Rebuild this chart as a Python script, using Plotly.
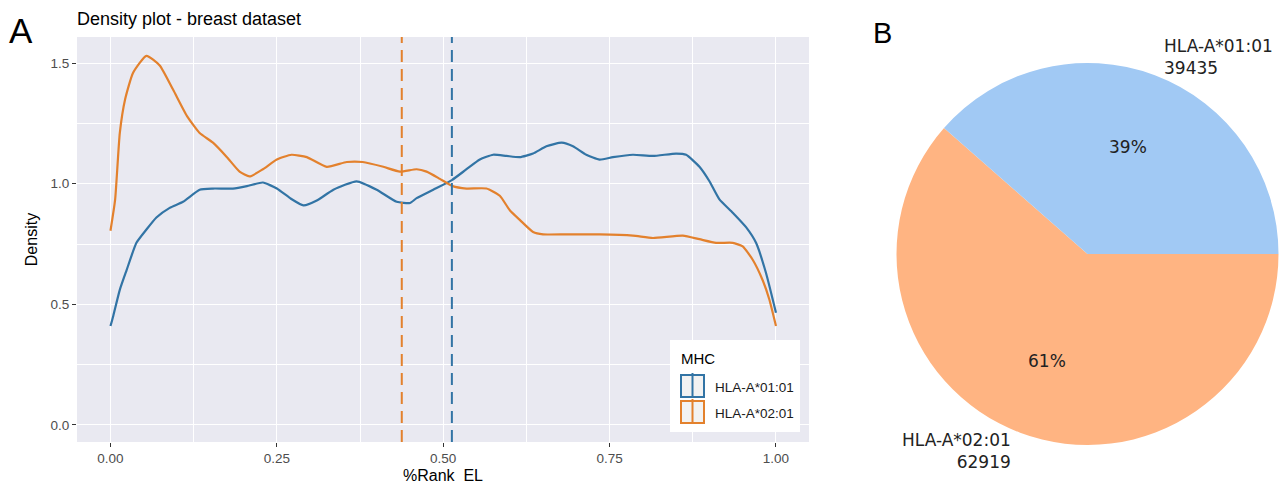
import numpy as np
import plotly.graph_objects as go

# ---------------- data ----------------
mhc_names = ["HLA-A*01:01", "HLA-A*02:01"]
line_colors = ["#3274a5", "#e3812d"]

# density of %Rank EL for HLA-A*01:01
rank_a01 = [0.0, 0.004, 0.014, 0.024, 0.039, 0.054, 0.069, 0.089, 0.109, 0.134, 0.154,
            0.184, 0.205, 0.229, 0.25, 0.27, 0.29, 0.31, 0.335, 0.37, 0.40, 0.43,
            0.45, 0.46, 0.485, 0.513, 0.535, 0.555, 0.575, 0.595, 0.615, 0.635, 0.655,
            0.678, 0.695, 0.715, 0.735, 0.755, 0.785, 0.815, 0.85, 0.865, 0.885, 0.90,
            0.915, 0.935, 0.955, 0.97, 0.985, 1.0]
dens_a01 = [0.41, 0.45, 0.56, 0.64, 0.755, 0.81, 0.86, 0.90, 0.925, 0.975, 0.98,
            0.98, 0.99, 1.005, 0.98, 0.94, 0.91, 0.93, 0.975, 1.01, 0.975, 0.925,
            0.92, 0.94, 0.975, 1.015, 1.06, 1.10, 1.12, 1.115, 1.11, 1.125, 1.155,
            1.17, 1.155, 1.12, 1.10, 1.11, 1.12, 1.115, 1.125, 1.12, 1.07, 1.01,
            0.935, 0.88, 0.82, 0.755, 0.63, 0.465]

# density of %Rank EL for HLA-A*02:01
rank_a02 = [0.0, 0.007, 0.014, 0.022, 0.034, 0.054, 0.074, 0.094, 0.115, 0.134, 0.154,
            0.175, 0.194, 0.209, 0.229, 0.25, 0.272, 0.295, 0.325, 0.355, 0.379, 0.41,
            0.435, 0.46, 0.475, 0.495, 0.514, 0.535, 0.565, 0.585, 0.60, 0.615, 0.635,
            0.65, 0.685, 0.735, 0.785, 0.815, 0.86, 0.885, 0.91, 0.935, 0.95, 0.965,
            0.98, 0.99, 1.0]
dens_a02 = [0.805, 0.934, 1.21, 1.35, 1.46, 1.53, 1.49, 1.39, 1.28, 1.21, 1.17,
            1.11, 1.05, 1.03, 1.06, 1.10, 1.12, 1.11, 1.07, 1.09, 1.09, 1.07,
            1.05, 1.06, 1.05, 1.02, 0.99, 0.98, 0.98, 0.95, 0.89, 0.85, 0.80,
            0.79, 0.79, 0.79, 0.785, 0.775, 0.785, 0.77, 0.755, 0.755, 0.74, 0.685,
            0.60, 0.52, 0.41]

# mean %Rank EL per allele (dashed reference lines)
rank_means = [0.513, 0.4377]

# peptide counts per allele
pie_counts = [39435, 62919]
pie_colors = ["#a1c9f4", "#ffb482"]

# x / y tick values
x_ticks = [0.0, 0.25, 0.5, 0.75, 1.0]
y_ticks = [0.0, 0.5, 1.0, 1.5]

# ---------------- layout helpers ----------------
W, H = 1286, 484


def px_x(px):
    return px / W


def px_y(py):
    return 1 - py / H


AX_FONT = "Liberation Sans, Arial, sans-serif"
PIE_FONT = "DejaVu Sans, sans-serif"

fig = go.Figure()

# density curves
for name, col, xs, ys in [(mhc_names[0], line_colors[0], rank_a01, dens_a01),
                          (mhc_names[1], line_colors[1], rank_a02, dens_a02)]:
    fig.add_trace(go.Scatter(x=xs, y=ys, mode="lines", name=name,
                             line=dict(color=col, width=2.2, shape="spline", smoothing=0.5),
                             showlegend=False, hoverinfo="skip"))

# pie chart: slices laid out counter-clockwise from 3 o'clock
# (drawn clockwise in reverse order, which gives the same arrangement)
pie_cx, pie_cy, pie_r = 1087.5, 254, 191
fig.add_trace(go.Pie(values=pie_counts[::-1], labels=mhc_names[::-1], sort=False,
                     direction="clockwise", rotation=90,
                     marker=dict(colors=pie_colors[::-1], line=dict(width=0)),
                     textinfo="none", hoverinfo="skip", showlegend=False,
                     domain=dict(x=[px_x(pie_cx - pie_r), px_x(pie_cx + pie_r)],
                                 y=[px_y(pie_cy + pie_r), px_y(pie_cy - pie_r)])))

annotations = []
total = sum(pie_counts)
start = 0.0
for name, cnt in zip(mhc_names, pie_counts):
    frac = cnt / total
    mid = np.deg2rad((start + frac / 2) * 360)
    start += frac
    # percentage inside the slice
    annotations.append(dict(
        x=px_x(pie_cx + 0.6 * pie_r * np.cos(mid)), y=px_y(pie_cy - 0.6 * pie_r * np.sin(mid)),
        xref="paper", yref="paper", text=f"{frac * 100:.0f}%", showarrow=False,
        xanchor="center", yanchor="middle", font=dict(family=PIE_FONT, size=17, color="#222")))
    # outside label
    cx = np.cos(mid)
    annotations.append(dict(
        x=px_x(pie_cx + 1.1 * pie_r * cx), y=px_y(pie_cy - 1.1 * pie_r * np.sin(mid)),
        xref="paper", yref="paper", text=f"{name}<br>{cnt}", showarrow=False,
        xanchor="left" if cx > 0 else "right", align="left" if cx > 0 else "right",
        yanchor="middle", font=dict(family=PIE_FONT, size=17, color="#222")))

# panel letters and title
annotations += [
    dict(x=px_x(7), y=px_y(31), xref="paper", yref="paper", text="A", showarrow=False,
         xanchor="left", yanchor="middle", font=dict(family=AX_FONT, size=35, color="#000")),
    dict(x=px_x(871), y=px_y(33), xref="paper", yref="paper", text="B", showarrow=False,
         xanchor="left", yanchor="middle", font=dict(family=AX_FONT, size=29, color="#000")),
    dict(x=px_x(75), y=px_y(19), xref="paper", yref="paper", text="Density plot - breast dataset",
         showarrow=False, xanchor="left", yanchor="middle",
         font=dict(family=AX_FONT, size=18, color="#000")),
]

# legend (drawn by hand: boxed keys with a vertical rule)
shapes = []
lg_l, lg_t, lg_r, lg_b = 670, 340, 800, 432
shapes.append(dict(type="rect", xref="paper", yref="paper", layer="above",
                   x0=px_x(lg_l), x1=px_x(lg_r), y0=px_y(lg_b), y1=px_y(lg_t),
                   fillcolor="white", line=dict(width=0)))
annotations.append(dict(x=px_x(679), y=px_y(358), xref="paper", yref="paper", text="MHC",
                        showarrow=False, xanchor="left", yanchor="middle",
                        font=dict(family=AX_FONT, size=15, color="#000")))
key_top = 373
for i, (name, col) in enumerate(zip(mhc_names, line_colors)):
    t = key_top + i * 26
    b = t + 24
    shapes.append(dict(type="rect", xref="paper", yref="paper", layer="above",
                       x0=px_x(681), x1=px_x(704), y0=px_y(b), y1=px_y(t + 2),
                       fillcolor="#f2f2f2", line=dict(color=col, width=2)))
    shapes.append(dict(type="line", xref="paper", yref="paper", layer="above",
                       x0=px_x(692.5), x1=px_x(692.5), y0=px_y(b), y1=px_y(t),
                       line=dict(color=col, width=2)))
    annotations.append(dict(x=px_x(713), y=px_y(t + 14), xref="paper", yref="paper", text=name,
                            showarrow=False, xanchor="left", yanchor="middle",
                            font=dict(family=AX_FONT, size=13.5, color="#1a1a1a")))

axis_common = dict(showline=False, zeroline=False, ticks="outside", ticklen=4,
                   tickcolor="#333333", tickwidth=1, gridcolor="white", gridwidth=1.4,
                   tickfont=dict(family=AX_FONT, size=13.5, color="#4d4d4d"))

fig.update_layout(
    width=W, height=H, margin=dict(l=0, r=0, t=0, b=0),
    paper_bgcolor="white", plot_bgcolor="#e9e9f1",
    xaxis=dict(domain=[px_x(77), px_x(809)], range=[-0.0503, 1.0496],
               tickvals=x_ticks, tickformat=".2f",
               minor=dict(tick0=0.125, dtick=0.25, showgrid=True, gridcolor="white", gridwidth=0.7),
               title=dict(text="%Rank\u00a0\u00a0EL", standoff=6,
                          font=dict(family=AX_FONT, size=16, color="#000")),
               **axis_common),
    yaxis=dict(domain=[px_y(442), px_y(37)], range=[-0.0705, 1.608],
               tickvals=y_ticks, tickformat=".1f",
               minor=dict(tick0=0.25, dtick=0.5, showgrid=True, gridcolor="white", gridwidth=0.7),
               title=dict(text="Density", standoff=8,
                          font=dict(family=AX_FONT, size=16, color="#000")),
               **axis_common),
    annotations=annotations, shapes=shapes,
)

# mean lines, added after the layout shapes so they are appended rather than merged
for m, col in zip(rank_means, line_colors):
    fig.add_vline(x=m, line=dict(color=col, width=2, dash="12px,7px"), layer="above")

fig.write_html("out.html")
